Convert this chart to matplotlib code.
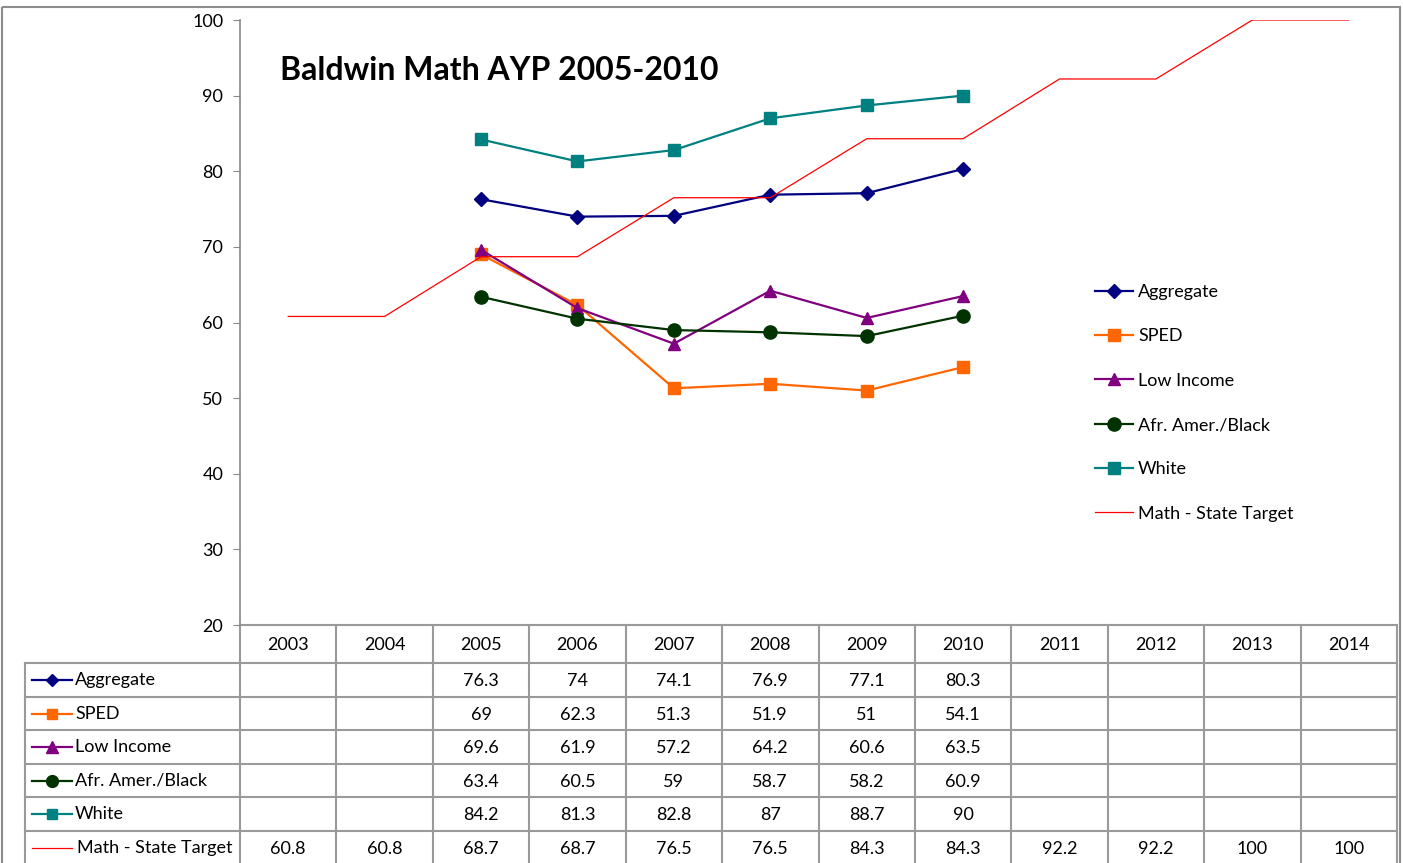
import numpy as np
import matplotlib.pyplot as plt
from matplotlib.patches import Rectangle

plt.rcParams['font.family'] = ['Lato', 'DejaVu Sans']

years = ['2003', '2004', '2005', '2006', '2007', '2008', '2009', '2010',
         '2011', '2012', '2013', '2014']
nan = np.nan
aggregate = [nan, nan, 76.3, 74, 74.1, 76.9, 77.1, 80.3, nan, nan, nan, nan]
sped = [nan, nan, 69, 62.3, 51.3, 51.9, 51, 54.1, nan, nan, nan, nan]
low_income = [nan, nan, 69.6, 61.9, 57.2, 64.2, 60.6, 63.5, nan, nan, nan, nan]
afr_amer = [nan, nan, 63.4, 60.5, 59, 58.7, 58.2, 60.9, nan, nan, nan, nan]
white = [nan, nan, 84.2, 81.3, 82.8, 87, 88.7, 90, nan, nan, nan, nan]
target = [60.8, 60.8, 68.7, 68.7, 76.5, 76.5, 84.3, 84.3, 92.2, 92.2, 100, 100]

names = ['Aggregate', 'SPED', 'Low Income', 'Afr. Amer./Black', 'White',
         'Math - State Target']
series = [aggregate, sped, low_income, afr_amer, white, target]
colors = ['#000080', '#FF6600', '#800080', '#003300', '#008080', '#FF0000']
markers = ['D', 's', '^', 'o', 's', None]
msizes = [7.5, 8.5, 9, 9.5, 8.5, 0]
lws = [1.6, 1.6, 1.6, 1.6, 1.6, 0.9]
fs = 13

W, H = 1403, 863
fig = plt.figure(figsize=(W / 100, H / 100), dpi=100)

# plot area in pixel terms
px0, px1, py0, py1 = 240, 1397, 20, 625
ax = fig.add_axes([px0 / W, 1 - py1 / H, (px1 - px0) / W, (py1 - py0) / H])
ax.patch.set_alpha(0)
x = np.arange(len(years))
handles = []
for s, n, c, m, ms, lw in zip(series, names, colors, markers, msizes, lws):
    h, = ax.plot(x, s, color=c, marker=m, markersize=ms, lw=lw, label=n,
                 markeredgecolor=c)
    handles.append(h)
ax.set_xlim(-0.5, len(years) - 0.5)
ax.set_ylim(20, 100)
ax.set_yticks(range(20, 101, 10))
ax.set_xticks([])
for sp in ['top', 'right', 'bottom']:
    ax.spines[sp].set_visible(False)
ax.spines['left'].set_color('#888888')
ax.spines['left'].set_linewidth(1.2)
ax.tick_params(axis='y', length=5, color='#888888', labelsize=fs, pad=7)

ax.legend(handles=handles, loc='upper left', bbox_to_anchor=(1095 / W, 1 - 284 / H),
          bbox_transform=fig.transFigure, frameon=False, fontsize=fs,
          handlelength=2.1, handletextpad=0.28, labelspacing=1.57,
          borderaxespad=0, borderpad=0)

# overlay in pixel coordinates for title, border and data table
ov = fig.add_axes([0, 0, 1, 1], zorder=-1)
ov.set_xlim(0, W)
ov.set_ylim(H, 0)
ov.axis('off')

ov.add_patch(Rectangle((2, 7), 1398, 870, fill=False, edgecolor='#8c8c8c', lw=1.5,
                       clip_on=False))
ov.text(280, 71, 'Baldwin Math AYP 2005-2010', fontsize=23, fontweight='bold',
        va='center', ha='left')

gc = '#9a9a9a'
colw = (px1 - px0) / len(years)
row_top = [625, 663, 696.5, 730, 763.5, 797, 830.5]
ov.plot([px0, px1], [625, 625], color=gc, lw=1.5)
for yy in row_top[1:]:
    ov.plot([25, px1], [yy, yy], color=gc, lw=1.5)
for i in range(len(years) + 1):
    ov.plot([px0 + i * colw] * 2, [625, H + 5], color=gc, lw=1.5)
ov.plot([25, 25], [663, H + 5], color=gc, lw=1.5)

for i, yr in enumerate(years):
    ov.text(px0 + (i + 0.5) * colw, 645, yr, ha='center', va='center', fontsize=fs)

row_c = [680, 713.5, 747, 780.5, 814, 848]
for r, (s, n, c, m, ms, lw) in enumerate(zip(series, names, colors, markers, msizes, lws)):
    yc = row_c[r]
    ov.plot([32, 72], [yc, yc], color=c, lw=lw)
    if m:
        ov.plot([52], [yc], marker=m, color=c, markersize=ms - 1)
    ov.text(75 if r < 5 else 77, yc, n, ha='left', va='center', fontsize=fs)
    for i, v in enumerate(s):
        if not np.isnan(v):
            ov.text(px0 + (i + 0.5) * colw, yc + 1, f'{v:g}', ha='center',
                    va='center', fontsize=fs)

fig.savefig('out.png', dpi=100)
